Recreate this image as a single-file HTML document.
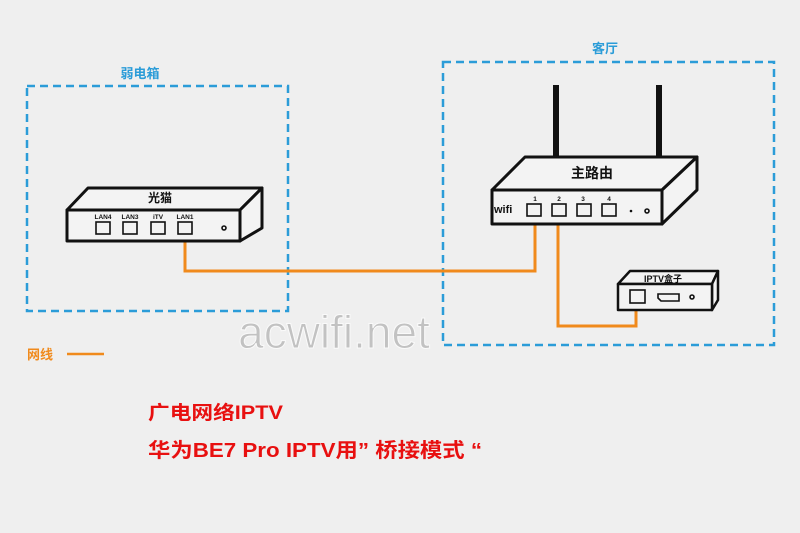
<!DOCTYPE html>
<html><head><meta charset="utf-8"><style>
html,body{margin:0;padding:0;background:#efefef;}
svg{display:block}
text{font-family:"Liberation Sans","Noto Sans CJK SC",sans-serif;}
</style></head><body>
<svg width="800" height="533" viewBox="0 0 800 533" xmlns="http://www.w3.org/2000/svg">
<rect width="800" height="533" fill="#efefef"/>
<rect x="27" y="86" width="261" height="225" fill="none" stroke="#2b9cd8" stroke-width="2.5" stroke-dasharray="8,5"/>
<rect x="443" y="62" width="331" height="283" fill="none" stroke="#2b9cd8" stroke-width="2.5" stroke-dasharray="8,5"/>
<text x="140" y="78" font-size="13" font-weight="bold" fill="#2b9cd8" text-anchor="middle">弱电箱</text>
<text x="605" y="53" font-size="13" font-weight="bold" fill="#2b9cd8" text-anchor="middle">客厅</text>

<text x="334" y="348" font-size="46" fill="#c2c2c2" stroke="#fafafa" stroke-width="1" text-anchor="middle">acwifi.net</text>

<g fill="none" stroke="#f08a1c" stroke-width="3">
<polyline points="185,229 185,271 535,271 535,212"/>
<polyline points="558,212 558,326 636,326 636,297"/>
</g>

<g stroke="#111" stroke-width="3" fill="#f3f3f3" stroke-linejoin="round">
<polygon points="67,210 88,188 262,188 240,210"/>
<polygon points="240,210 262,188 262,228 240,241"/>
<rect x="67" y="210" width="173" height="31"/>
</g>
<text x="160" y="202" font-size="12" font-weight="bold" text-anchor="middle" fill="#111">光猫</text>
<g font-size="6.5" font-weight="bold" fill="#111" text-anchor="middle">
<text x="103" y="219">LAN4</text><text x="130" y="219">LAN3</text><text x="158" y="219">iTV</text><text x="185" y="219">LAN1</text>
</g>
<g stroke="#111" stroke-width="1.6" fill="#f3f3f3">
<rect x="96" y="222" width="14" height="12"/><rect x="123" y="222" width="14" height="12"/><rect x="151" y="222" width="14" height="12"/><rect x="178" y="222" width="14" height="12"/>
<circle cx="224" cy="228" r="2"/>
</g>

<rect x="553" y="85" width="6" height="72" fill="#111"/>
<rect x="656" y="85" width="6" height="72" fill="#111"/>
<g stroke="#111" stroke-width="3" fill="#f3f3f3" stroke-linejoin="round">
<polygon points="492,190 525,157 697,157 662,190"/>
<polygon points="662,190 697,157 697,190 662,224"/>
<rect x="492" y="190" width="170" height="34"/>
</g>
<text x="592" y="178" font-size="14" font-weight="bold" text-anchor="middle" fill="#111">主路由</text>
<text x="494" y="213" font-size="11" font-weight="bold" fill="#111">wifi</text>
<g font-size="6.5" font-weight="bold" fill="#111" text-anchor="middle">
<text x="535" y="201">1</text><text x="559" y="201">2</text><text x="583" y="201">3</text><text x="609" y="201">4</text>
</g>
<g stroke="#111" stroke-width="1.6" fill="#f3f3f3">
<rect x="527" y="204" width="14" height="12"/><rect x="552" y="204" width="14" height="12"/><rect x="577" y="204" width="14" height="12"/><rect x="602" y="204" width="14" height="12"/>
<circle cx="647" cy="211" r="2"/>
</g>
<circle cx="631" cy="211" r="1.3" fill="#111"/>

<g stroke="#111" stroke-width="2.5" fill="#f3f3f3" stroke-linejoin="round">
<polygon points="618,284 630,271 718,271 712,284"/>
<polygon points="712,284 718,271 718,300 712,310"/>
<rect x="618" y="284" width="94" height="26"/>
</g>
<text x="663" y="282" font-size="9" font-weight="bold" text-anchor="middle" fill="#111">IPTV盒子</text>
<g stroke="#111" stroke-width="1.6" fill="#f3f3f3">
<rect x="630" y="290" width="15" height="13"/>
<path d="M658,294 H679 V301 H661 L658,298 Z"/>
<circle cx="692" cy="297" r="2"/>
</g>

<text x="27" y="359" font-size="13" font-weight="bold" fill="#f08a1c">网线</text>
<line x1="67" y1="354" x2="104" y2="354" stroke="#f08a1c" stroke-width="2.5"/>

<text x="148" y="419" font-size="19" font-weight="bold" fill="#e81010" textLength="135" lengthAdjust="spacingAndGlyphs">广电网络IPTV</text>
<text x="148" y="457" font-size="20" font-weight="bold" fill="#e81010" textLength="334" lengthAdjust="spacingAndGlyphs" xml:space="preserve">华为BE7 Pro IPTV用” 桥接模式 “</text>
</svg>
</body></html>
